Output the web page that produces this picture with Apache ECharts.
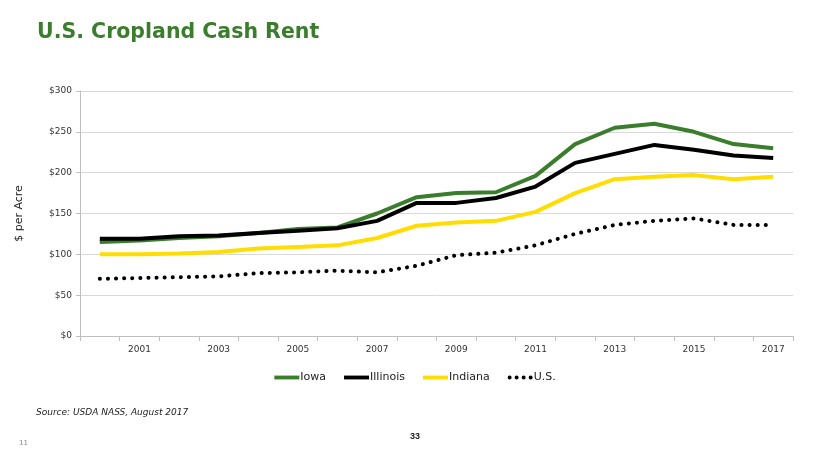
<!DOCTYPE html>
<html><head><meta charset="utf-8">
<script src="https://cdn.jsdelivr.net/npm/echarts@6/dist/echarts.min.js"></script>
<style>html,body{margin:0;padding:0;background:#fff}#c{width:830px;height:467px}</style>
</head><body><div id="c"></div>
<script>
var years = ['2000','2001','2002','2003','2004','2005','2006','2007','2008','2009','2010','2011','2012','2013','2014','2015','2016','2017'];
var iowa = [115,117,120,122,126,131,133,150,170,175,176,196,235,255,260,250,235,230];
var illinois = [119,119,122,123,126,129,132,141,163,163,169,183,212,223,234,228,221,218];
var indiana = [100,100,101,103,107,109,111,120,135,139,141,152,175,192,195,197,192,195];
var us = [70,71,72,73,77,78,80,78,86,99,102,111,125,136,141,144,136,136];

var F = 'DejaVu Sans, Verdana, sans-serif';
var lineIcon = 'path://M0,0 L26,0 L26,4 L0,4 Z';
var dotIcon = 'path://M0,2 a2,2 0 1,0 4,0 a2,2 0 1,0 -4,0 Z M7,2 a2,2 0 1,0 4,0 a2,2 0 1,0 -4,0 Z M14,2 a2,2 0 1,0 4,0 a2,2 0 1,0 -4,0 Z M21,2 a2,2 0 1,0 4,0 a2,2 0 1,0 -4,0 Z';
var chart = echarts.init(document.getElementById('c'));
chart.setOption({
  animation:false,
  title:[
    {text:'U.S. Cropland Cash Rent',left:37,top:22,padding:0,textStyle:{color:'#3a7d2c',fontSize:20.5,fontWeight:'bold',fontFamily:F}},
    {text:'Source: USDA NASS, August 2017',left:36,top:408,padding:0,textStyle:{color:'#222',fontSize:9,fontStyle:'italic',fontWeight:'normal',fontFamily:F}},
    {text:'11',left:19,top:440,padding:0,textStyle:{color:'#888',fontSize:7,fontWeight:'normal',fontFamily:F}},
    {text:'33',left:410,top:432,padding:0,textStyle:{color:'#222',fontSize:9,fontWeight:'bold',fontFamily:'Liberation Sans, Arial, sans-serif'}}
  ],
  grid:{left:80,right:37,top:91,bottom:131},
  legend:{
    top:367,left:'center',itemWidth:25,itemHeight:4,itemGap:18,
    textStyle:{fontFamily:F,fontSize:11,color:'#222',padding:[0,0,0,-4]},
    data:[
      {name:'Iowa',icon:lineIcon},
      {name:'Illinois',icon:lineIcon},
      {name:'Indiana',icon:lineIcon},
      {name:'U.S.',icon:dotIcon}
    ]
  },
  xAxis:{
    type:'category',data:years,boundaryGap:true,
    axisLine:{lineStyle:{color:'#bfbfbf'}},
    axisTick:{show:true,interval:0,length:5,lineStyle:{color:'#bfbfbf'}},
    axisLabel:{interval:function(i){return i%2===1;},fontFamily:F,fontSize:9,color:'#333',margin:9}
  },
  yAxis:{
    type:'value',min:0,max:300,interval:50,
    name:'$ per Acre',nameLocation:'middle',nameGap:55,nameRotate:90,
    nameTextStyle:{fontFamily:F,fontSize:11,color:'#222'},
    axisLine:{show:true,lineStyle:{color:'#bfbfbf'}},
    axisTick:{show:true,length:4,lineStyle:{color:'#bfbfbf'}},
    splitLine:{lineStyle:{color:'#d9d9d9'}},
    axisLabel:{fontFamily:F,fontSize:9,color:'#333',margin:8,formatter:function(v){return '$'+v;}}
  },
  series:[
    {name:'Iowa',type:'line',data:iowa,symbol:'none',color:'#3a7d2c',lineStyle:{width:4,color:'#3a7d2c'}},
    {name:'Illinois',type:'line',data:illinois,symbol:'none',color:'#000',lineStyle:{width:4,color:'#000'}},
    {name:'Indiana',type:'line',data:indiana,symbol:'none',color:'#ffdd00',lineStyle:{width:4,color:'#ffdd00'}},
    {name:'U.S.',type:'line',data:us,symbol:'none',color:'#000',lineStyle:{width:4,color:'#000',type:[0.1,8],cap:'round'}}
  ]
});
</script></body></html>
